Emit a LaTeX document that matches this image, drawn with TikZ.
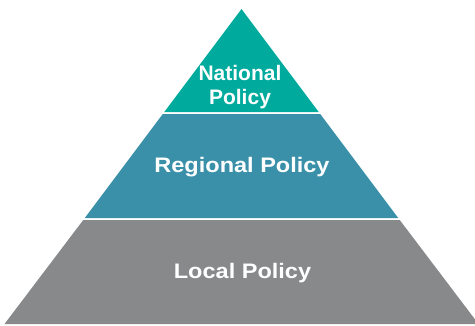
\documentclass[tikz,border=0pt]{standalone}
\usepackage{fontspec}
\setmainfont{Liberation Sans}
\usepackage{graphicx}
\usetikzlibrary{positioning}

\definecolor{natcol}{RGB}{0,170,157}
\definecolor{regcol}{RGB}{57,144,168}
\definecolor{loccol}{RGB}{136,137,139}

\tikzset{
  lbl/.style={text=white, inner sep=0pt, font=\fontsize{21}{24}\selectfont\bfseries, align=center},
}

\begin{document}
\begin{tikzpicture}[x=1pt,y=-1pt]
    \useasboundingbox (0,0) rectangle (475,325);
    \clip (0,0) rectangle (475,325);
    % layers of the pyramid
    \fill[natcol] (241.5,9) -- (318.75,112) -- (164.25,112) -- cycle;
    \fill[regcol] (162.75,114) -- (320.25,114) -- (398.25,218) -- (84.75,218) -- cycle;
    \fill[loccol] (83.25,220) -- (399.75,220) -- (478.5,324) -- (4.5,324) -- cycle;

    \node[lbl, anchor=north] (nat) at (240,65) {National\\Policy};
    \node[lbl, anchor=base] (reg) at (242,172.3) {\scalebox{1.12}[1]{Regional Policy}};
    \node[lbl, anchor=base] (loc) at (242.5,278.3) {\scalebox{1.12}[1]{Local Policy}};
\end{tikzpicture}
\end{document}
